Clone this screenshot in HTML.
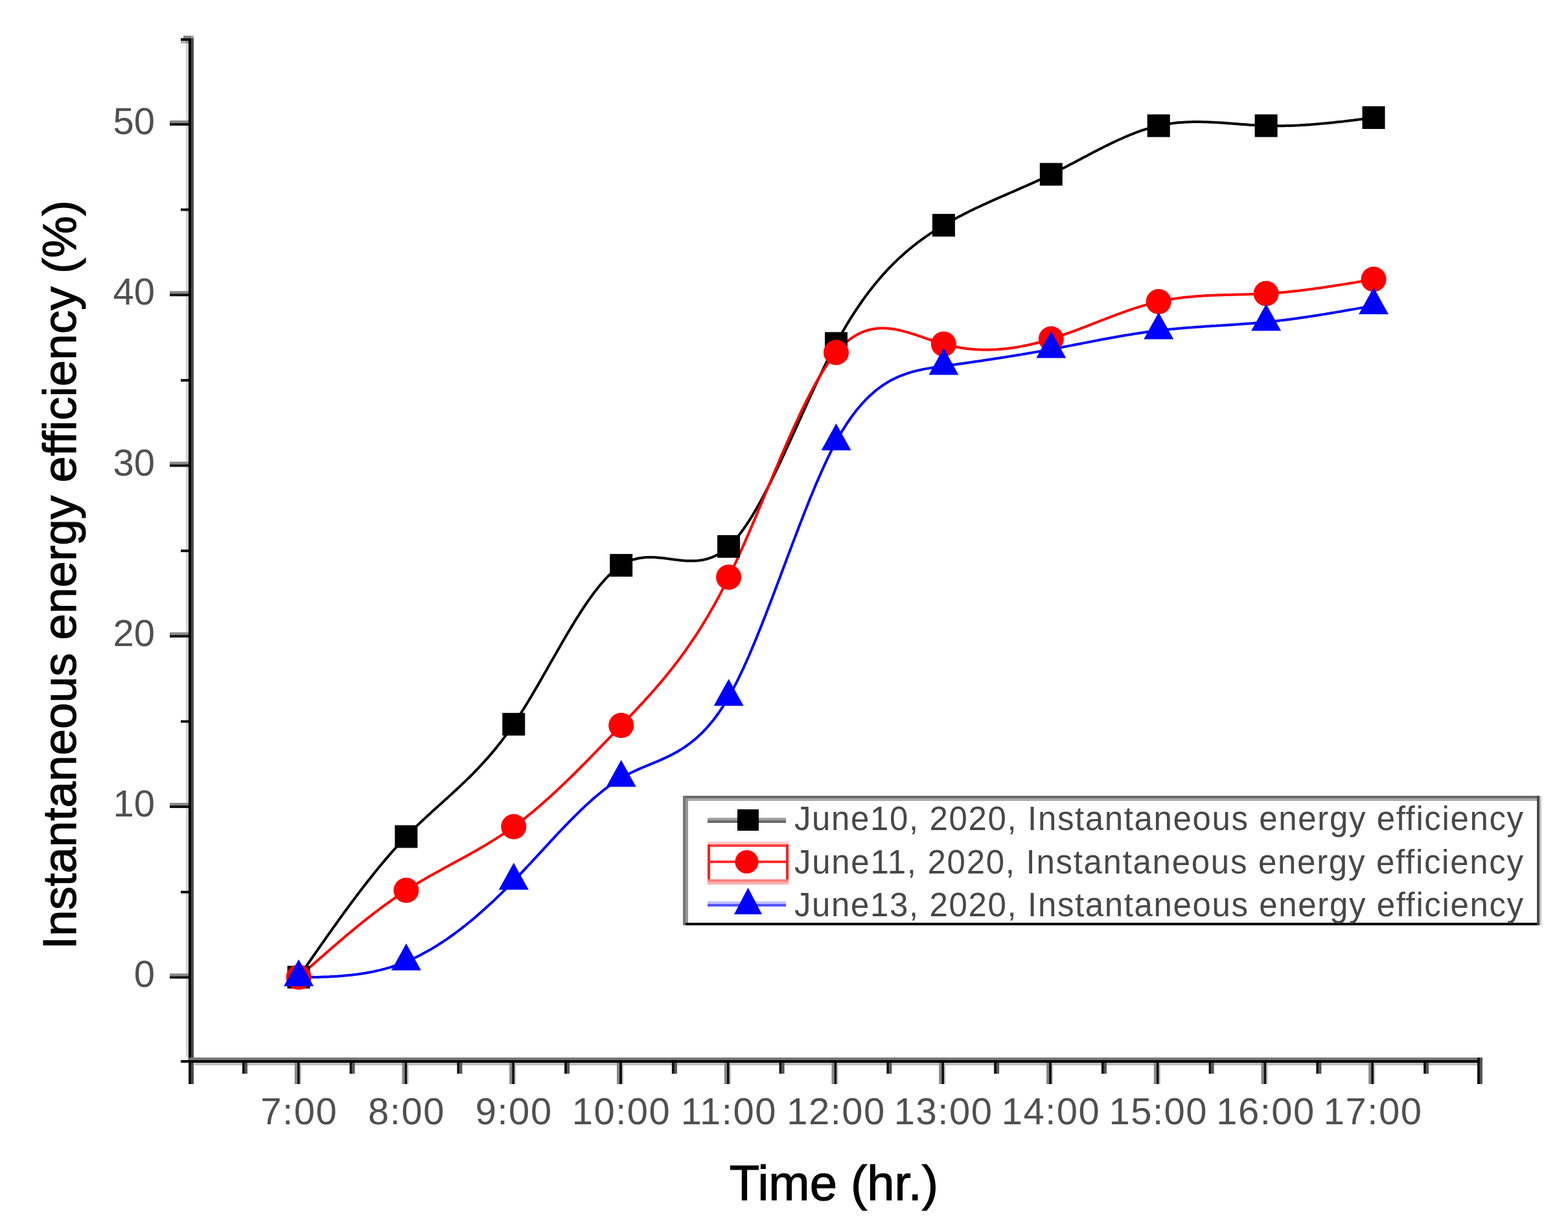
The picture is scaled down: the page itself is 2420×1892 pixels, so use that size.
<!DOCTYPE html>
<html><head><meta charset="utf-8"><title>Instantaneous energy efficiency</title>
<style>html,body{margin:0;padding:0;background:#fff;overflow:hidden;} svg{display:block;}</style></head>
<body><svg width="2420" height="1892" viewBox="0 0 2420 1892">
<rect width="2420" height="1892" fill="#fff"/>
<rect x="287.0" y="63.0" width="4.0" height="1569.0" fill="#d2d2d2"/>
<rect x="291.0" y="59.0" width="4.0" height="1614.0" fill="#000"/>
<rect x="295.0" y="59.0" width="4.0" height="1614.0" fill="#4a4a4a"/>
<rect x="283.0" y="55.0" width="12.0" height="4.0" fill="#808080"/>
<rect x="295.0" y="55.0" width="4.0" height="4.0" fill="#a0a0a0"/>
<rect x="279.0" y="59.0" width="12.0" height="4.0" fill="#111"/>
<rect x="279.0" y="63.0" width="8.0" height="4.0" fill="#b0b0b0"/>
<rect x="287.0" y="63.0" width="4.0" height="4.0" fill="#909090"/>
<rect x="292.0" y="1632.0" width="1996.0" height="4.0" fill="#777"/>
<rect x="279.0" y="1636.0" width="2009.0" height="4.0" fill="#000"/>
<rect x="300.0" y="1640.0" width="1980.0" height="4.0" fill="#bdbdbd"/>
<rect x="262.0" y="1502.3" width="29.0" height="4.0" fill="#888"/>
<rect x="262.0" y="1506.3" width="29.0" height="4.0" fill="#111"/>
<rect x="262.0" y="1239.0" width="29.0" height="4.0" fill="#888"/>
<rect x="262.0" y="1243.0" width="29.0" height="4.0" fill="#111"/>
<rect x="262.0" y="975.8" width="29.0" height="4.0" fill="#888"/>
<rect x="262.0" y="979.8" width="29.0" height="4.0" fill="#111"/>
<rect x="262.0" y="712.5" width="29.0" height="4.0" fill="#888"/>
<rect x="262.0" y="716.5" width="29.0" height="4.0" fill="#111"/>
<rect x="262.0" y="449.2" width="29.0" height="4.0" fill="#888"/>
<rect x="262.0" y="453.2" width="29.0" height="4.0" fill="#111"/>
<rect x="262.0" y="185.9" width="29.0" height="4.0" fill="#888"/>
<rect x="262.0" y="189.9" width="29.0" height="4.0" fill="#111"/>
<rect x="279.0" y="1374.7" width="12.0" height="4.0" fill="#111"/>
<rect x="279.0" y="1111.4" width="12.0" height="4.0" fill="#111"/>
<rect x="279.0" y="848.1" width="12.0" height="4.0" fill="#111"/>
<rect x="279.0" y="584.9" width="12.0" height="4.0" fill="#111"/>
<rect x="279.0" y="321.6" width="12.0" height="4.0" fill="#111"/>
<rect x="454.8" y="1640.0" width="4.0" height="33.0" fill="#888"/>
<rect x="458.8" y="1640.0" width="4.0" height="33.0" fill="#111"/>
<rect x="462.8" y="1640.0" width="2.0" height="33.0" fill="#bbb"/>
<rect x="620.5" y="1640.0" width="4.0" height="33.0" fill="#888"/>
<rect x="624.5" y="1640.0" width="4.0" height="33.0" fill="#111"/>
<rect x="628.5" y="1640.0" width="2.0" height="33.0" fill="#bbb"/>
<rect x="786.2" y="1640.0" width="4.0" height="33.0" fill="#888"/>
<rect x="790.2" y="1640.0" width="4.0" height="33.0" fill="#111"/>
<rect x="794.2" y="1640.0" width="2.0" height="33.0" fill="#bbb"/>
<rect x="952.0" y="1640.0" width="4.0" height="33.0" fill="#888"/>
<rect x="956.0" y="1640.0" width="4.0" height="33.0" fill="#111"/>
<rect x="960.0" y="1640.0" width="2.0" height="33.0" fill="#bbb"/>
<rect x="1117.8" y="1640.0" width="4.0" height="33.0" fill="#888"/>
<rect x="1121.8" y="1640.0" width="4.0" height="33.0" fill="#111"/>
<rect x="1125.8" y="1640.0" width="2.0" height="33.0" fill="#bbb"/>
<rect x="1283.5" y="1640.0" width="4.0" height="33.0" fill="#888"/>
<rect x="1287.5" y="1640.0" width="4.0" height="33.0" fill="#111"/>
<rect x="1291.5" y="1640.0" width="2.0" height="33.0" fill="#bbb"/>
<rect x="1449.2" y="1640.0" width="4.0" height="33.0" fill="#888"/>
<rect x="1453.2" y="1640.0" width="4.0" height="33.0" fill="#111"/>
<rect x="1457.2" y="1640.0" width="2.0" height="33.0" fill="#bbb"/>
<rect x="1615.0" y="1640.0" width="4.0" height="33.0" fill="#888"/>
<rect x="1619.0" y="1640.0" width="4.0" height="33.0" fill="#111"/>
<rect x="1623.0" y="1640.0" width="2.0" height="33.0" fill="#bbb"/>
<rect x="1780.8" y="1640.0" width="4.0" height="33.0" fill="#888"/>
<rect x="1784.8" y="1640.0" width="4.0" height="33.0" fill="#111"/>
<rect x="1788.8" y="1640.0" width="2.0" height="33.0" fill="#bbb"/>
<rect x="1946.5" y="1640.0" width="4.0" height="33.0" fill="#888"/>
<rect x="1950.5" y="1640.0" width="4.0" height="33.0" fill="#111"/>
<rect x="1954.5" y="1640.0" width="2.0" height="33.0" fill="#bbb"/>
<rect x="2112.2" y="1640.0" width="4.0" height="33.0" fill="#888"/>
<rect x="2116.2" y="1640.0" width="4.0" height="33.0" fill="#111"/>
<rect x="2120.2" y="1640.0" width="2.0" height="33.0" fill="#bbb"/>
<rect x="291.0" y="1640.0" width="4.0" height="33.0" fill="#111"/>
<rect x="295.0" y="1640.0" width="4.0" height="33.0" fill="#4a4a4a"/>
<rect x="2280.0" y="1632.0" width="4.0" height="41.0" fill="#111"/>
<rect x="2284.0" y="1632.0" width="4.0" height="41.0" fill="#555"/>
<rect x="373.9" y="1640.0" width="4.0" height="17.0" fill="#111"/>
<rect x="377.9" y="1640.0" width="4.0" height="17.0" fill="#555"/>
<rect x="539.6" y="1640.0" width="4.0" height="17.0" fill="#111"/>
<rect x="543.6" y="1640.0" width="4.0" height="17.0" fill="#555"/>
<rect x="705.4" y="1640.0" width="4.0" height="17.0" fill="#111"/>
<rect x="709.4" y="1640.0" width="4.0" height="17.0" fill="#555"/>
<rect x="871.1" y="1640.0" width="4.0" height="17.0" fill="#111"/>
<rect x="875.1" y="1640.0" width="4.0" height="17.0" fill="#555"/>
<rect x="1036.9" y="1640.0" width="4.0" height="17.0" fill="#111"/>
<rect x="1040.9" y="1640.0" width="4.0" height="17.0" fill="#555"/>
<rect x="1202.6" y="1640.0" width="4.0" height="17.0" fill="#111"/>
<rect x="1206.6" y="1640.0" width="4.0" height="17.0" fill="#555"/>
<rect x="1368.4" y="1640.0" width="4.0" height="17.0" fill="#111"/>
<rect x="1372.4" y="1640.0" width="4.0" height="17.0" fill="#555"/>
<rect x="1534.1" y="1640.0" width="4.0" height="17.0" fill="#111"/>
<rect x="1538.1" y="1640.0" width="4.0" height="17.0" fill="#555"/>
<rect x="1699.9" y="1640.0" width="4.0" height="17.0" fill="#111"/>
<rect x="1703.9" y="1640.0" width="4.0" height="17.0" fill="#555"/>
<rect x="1865.6" y="1640.0" width="4.0" height="17.0" fill="#111"/>
<rect x="1869.6" y="1640.0" width="4.0" height="17.0" fill="#555"/>
<rect x="2031.4" y="1640.0" width="4.0" height="17.0" fill="#111"/>
<rect x="2035.4" y="1640.0" width="4.0" height="17.0" fill="#555"/>
<rect x="2197.1" y="1640.0" width="4.0" height="17.0" fill="#111"/>
<rect x="2201.1" y="1640.0" width="4.0" height="17.0" fill="#555"/>
<polyline fill="none" stroke="#000" stroke-width="4" stroke-linejoin="round" points="461.0,1508.0 463.8,1504.0 466.5,1500.0 469.3,1496.0 472.1,1492.0 474.8,1488.0 477.6,1484.0 480.4,1480.0 483.2,1476.0 485.9,1472.1 488.7,1468.1 491.5,1464.1 494.2,1460.2 497.0,1456.2 499.8,1452.3 502.5,1448.3 505.3,1444.4 508.1,1440.5 510.9,1436.6 513.6,1432.7 516.4,1428.8 519.2,1425.0 521.9,1421.1 524.7,1417.3 527.5,1413.4 530.2,1409.6 533.0,1405.8 535.8,1402.1 538.5,1398.3 541.3,1394.5 544.1,1390.8 546.9,1387.1 549.6,1383.4 552.4,1379.8 555.2,1376.1 557.9,1372.5 560.7,1368.9 563.5,1365.3 566.2,1361.8 569.0,1358.2 571.8,1354.7 574.6,1351.2 577.3,1347.8 580.1,1344.3 582.9,1340.9 585.6,1337.6 588.4,1334.2 591.2,1330.9 593.9,1327.6 596.7,1324.4 599.5,1321.1 602.3,1317.9 605.0,1314.8 607.8,1311.6 610.6,1308.6 613.3,1305.5 616.1,1302.5 618.9,1299.5 621.6,1296.5 624.4,1293.6 627.2,1290.7 629.9,1287.9 632.7,1285.1 635.5,1282.3 638.3,1279.5 641.0,1276.8 643.8,1274.1 646.6,1271.5 649.3,1268.9 652.1,1266.2 654.9,1263.6 657.6,1261.1 660.4,1258.5 663.2,1256.0 666.0,1253.4 668.7,1250.9 671.5,1248.4 674.3,1245.9 677.0,1243.4 679.8,1240.9 682.6,1238.4 685.3,1235.9 688.1,1233.4 690.9,1230.9 693.6,1228.4 696.4,1225.9 699.2,1223.3 702.0,1220.8 704.7,1218.2 707.5,1215.6 710.3,1213.0 713.0,1210.4 715.8,1207.8 718.6,1205.1 721.3,1202.4 724.1,1199.7 726.9,1197.0 729.7,1194.2 732.4,1191.4 735.2,1188.5 738.0,1185.6 740.7,1182.7 743.5,1179.7 746.3,1176.7 749.0,1173.7 751.8,1170.6 754.6,1167.4 757.3,1164.2 760.1,1160.9 762.9,1157.6 765.7,1154.2 768.4,1150.8 771.2,1147.3 774.0,1143.7 776.7,1140.1 779.5,1136.4 782.3,1132.7 785.0,1128.8 787.8,1124.9 790.6,1120.9 793.4,1116.9 796.1,1112.7 798.9,1108.5 801.7,1104.3 804.4,1099.9 807.2,1095.5 810.0,1091.1 812.7,1086.5 815.5,1082.0 818.3,1077.4 821.1,1072.7 823.8,1068.0 826.6,1063.3 829.4,1058.5 832.1,1053.7 834.9,1048.9 837.7,1044.1 840.4,1039.2 843.2,1034.4 846.0,1029.5 848.7,1024.6 851.5,1019.8 854.3,1014.9 857.1,1010.1 859.8,1005.2 862.6,1000.4 865.4,995.6 868.1,990.8 870.9,986.0 873.7,981.3 876.4,976.6 879.2,972.0 882.0,967.4 884.8,962.8 887.5,958.3 890.3,953.9 893.1,949.5 895.8,945.1 898.6,940.9 901.4,936.7 904.1,932.6 906.9,928.5 909.7,924.6 912.4,920.7 915.2,916.9 918.0,913.2 920.8,909.7 923.5,906.2 926.3,902.8 929.1,899.5 931.8,896.4 934.6,893.3 937.4,890.4 940.1,887.6 942.9,884.9 945.7,882.4 948.5,880.0 951.2,877.8 954.0,875.6 956.8,873.7 959.5,871.9 962.3,870.2 965.1,868.7 967.8,867.3 970.6,866.1 973.4,865.0 976.1,864.0 978.9,863.2 981.7,862.5 984.5,861.8 987.2,861.3 990.0,860.9 992.8,860.5 995.5,860.3 998.3,860.1 1001.1,860.0 1003.8,860.0 1006.6,860.0 1009.4,860.1 1012.2,860.3 1014.9,860.5 1017.7,860.7 1020.5,861.0 1023.2,861.3 1026.0,861.6 1028.8,862.0 1031.5,862.3 1034.3,862.7 1037.1,863.1 1039.8,863.4 1042.6,863.8 1045.4,864.1 1048.2,864.4 1050.9,864.7 1053.7,865.0 1056.5,865.2 1059.2,865.4 1062.0,865.5 1064.8,865.6 1067.5,865.6 1070.3,865.6 1073.1,865.5 1075.9,865.3 1078.6,865.0 1081.4,864.6 1084.2,864.2 1086.9,863.6 1089.7,863.0 1092.5,862.2 1095.2,861.3 1098.0,860.3 1100.8,859.2 1103.6,857.9 1106.3,856.5 1109.1,854.9 1111.9,853.2 1114.6,851.4 1117.4,849.3 1120.2,847.2 1122.9,844.8 1125.7,842.3 1128.5,839.6 1131.2,836.7 1134.0,833.6 1136.8,830.4 1139.6,827.0 1142.3,823.5 1145.1,819.8 1147.9,815.9 1150.6,811.9 1153.4,807.8 1156.2,803.6 1158.9,799.2 1161.7,794.7 1164.5,790.0 1167.3,785.3 1170.0,780.4 1172.8,775.5 1175.6,770.4 1178.3,765.3 1181.1,760.0 1183.9,754.7 1186.6,749.3 1189.4,743.8 1192.2,738.2 1194.9,732.6 1197.7,726.9 1200.5,721.1 1203.3,715.3 1206.0,709.4 1208.8,703.5 1211.6,697.5 1214.3,691.5 1217.1,685.5 1219.9,679.5 1222.6,673.4 1225.4,667.3 1228.2,661.2 1231.0,655.1 1233.7,648.9 1236.5,642.8 1239.3,636.7 1242.0,630.6 1244.8,624.5 1247.6,618.4 1250.3,612.4 1253.1,606.3 1255.9,600.3 1258.6,594.4 1261.4,588.5 1264.2,582.6 1267.0,576.8 1269.7,571.0 1272.5,565.3 1275.3,559.7 1278.0,554.1 1280.8,548.6 1283.6,543.2 1286.3,537.8 1289.1,532.6 1291.9,527.4 1294.7,522.4 1297.4,517.4 1300.2,512.5 1303.0,507.7 1305.7,503.0 1308.5,498.4 1311.3,493.9 1314.0,489.4 1316.8,485.1 1319.6,480.8 1322.4,476.6 1325.1,472.5 1327.9,468.5 1330.7,464.5 1333.4,460.6 1336.2,456.8 1339.0,453.1 1341.7,449.4 1344.5,445.9 1347.3,442.3 1350.0,438.9 1352.8,435.5 1355.6,432.2 1358.4,429.0 1361.1,425.8 1363.9,422.7 1366.7,419.7 1369.4,416.7 1372.2,413.7 1375.0,410.9 1377.7,408.1 1380.5,405.3 1383.3,402.6 1386.1,400.0 1388.8,397.4 1391.6,394.9 1394.4,392.4 1397.1,389.9 1399.9,387.6 1402.7,385.2 1405.4,382.9 1408.2,380.7 1411.0,378.5 1413.7,376.3 1416.5,374.2 1419.3,372.1 1422.1,370.1 1424.8,368.1 1427.6,366.1 1430.4,364.2 1433.1,362.3 1435.9,360.4 1438.7,358.6 1441.4,356.8 1444.2,355.1 1447.0,353.3 1449.8,351.6 1452.5,349.9 1455.3,348.3 1458.1,346.6 1460.8,345.0 1463.6,343.4 1466.4,341.8 1469.1,340.3 1471.9,338.8 1474.7,337.3 1477.4,335.8 1480.2,334.3 1483.0,332.9 1485.8,331.4 1488.5,330.0 1491.3,328.6 1494.1,327.2 1496.8,325.8 1499.6,324.5 1502.4,323.1 1505.1,321.8 1507.9,320.5 1510.7,319.2 1513.5,317.9 1516.2,316.6 1519.0,315.3 1521.8,314.1 1524.5,312.8 1527.3,311.6 1530.1,310.3 1532.8,309.1 1535.6,307.8 1538.4,306.6 1541.2,305.4 1543.9,304.2 1546.7,303.0 1549.5,301.8 1552.2,300.6 1555.0,299.4 1557.8,298.2 1560.5,297.0 1563.3,295.8 1566.1,294.6 1568.8,293.4 1571.6,292.2 1574.4,290.9 1577.2,289.7 1579.9,288.5 1582.7,287.3 1585.5,286.1 1588.2,284.8 1591.0,283.6 1593.8,282.4 1596.5,281.1 1599.3,279.9 1602.1,278.6 1604.9,277.3 1607.6,276.0 1610.4,274.7 1613.2,273.4 1615.9,272.1 1618.7,270.8 1621.5,269.4 1624.2,268.0 1627.0,266.7 1629.8,265.3 1632.5,263.9 1635.3,262.5 1638.1,261.1 1640.9,259.6 1643.6,258.2 1646.4,256.8 1649.2,255.3 1651.9,253.8 1654.7,252.4 1657.5,250.9 1660.2,249.5 1663.0,248.0 1665.8,246.5 1668.6,245.1 1671.3,243.6 1674.1,242.1 1676.9,240.7 1679.6,239.2 1682.4,237.7 1685.2,236.3 1687.9,234.8 1690.7,233.4 1693.5,232.0 1696.2,230.5 1699.0,229.1 1701.8,227.7 1704.6,226.3 1707.3,225.0 1710.1,223.6 1712.9,222.2 1715.6,220.9 1718.4,219.6 1721.2,218.3 1723.9,217.0 1726.7,215.7 1729.5,214.5 1732.3,213.2 1735.0,212.0 1737.8,210.8 1740.6,209.7 1743.3,208.5 1746.1,207.4 1748.9,206.3 1751.6,205.2 1754.4,204.2 1757.2,203.2 1759.9,202.2 1762.7,201.2 1765.5,200.3 1768.3,199.4 1771.0,198.6 1773.8,197.7 1776.6,196.9 1779.3,196.2 1782.1,195.5 1784.9,194.8 1787.6,194.1 1790.4,193.5 1793.2,192.9 1796.0,192.4 1798.7,191.9 1801.5,191.4 1804.3,191.0 1807.0,190.6 1809.8,190.3 1812.6,189.9 1815.3,189.6 1818.1,189.3 1820.9,189.1 1823.7,188.9 1826.4,188.7 1829.2,188.5 1832.0,188.4 1834.7,188.3 1837.5,188.2 1840.3,188.1 1843.0,188.1 1845.8,188.1 1848.6,188.1 1851.3,188.1 1854.1,188.1 1856.9,188.2 1859.7,188.2 1862.4,188.3 1865.2,188.4 1868.0,188.5 1870.7,188.7 1873.5,188.8 1876.3,189.0 1879.0,189.1 1881.8,189.3 1884.6,189.5 1887.4,189.6 1890.1,189.8 1892.9,190.0 1895.7,190.2 1898.4,190.4 1901.2,190.6 1904.0,190.9 1906.7,191.1 1909.5,191.3 1912.3,191.5 1915.0,191.7 1917.8,191.9 1920.6,192.1 1923.4,192.3 1926.1,192.5 1928.9,192.7 1931.7,192.9 1934.4,193.1 1937.2,193.2 1940.0,193.4 1942.7,193.5 1945.5,193.7 1948.3,193.8 1951.1,193.9 1953.8,194.0 1956.6,194.1 1959.4,194.1 1962.1,194.2 1964.9,194.2 1967.7,194.3 1970.4,194.3 1973.2,194.3 1976.0,194.3 1978.7,194.2 1981.5,194.2 1984.3,194.1 1987.1,194.1 1989.8,194.0 1992.6,193.9 1995.4,193.8 1998.1,193.7 2000.9,193.6 2003.7,193.4 2006.4,193.3 2009.2,193.1 2012.0,193.0 2014.8,192.8 2017.5,192.6 2020.3,192.4 2023.1,192.2 2025.8,192.0 2028.6,191.8 2031.4,191.6 2034.1,191.3 2036.9,191.1 2039.7,190.8 2042.5,190.6 2045.2,190.3 2048.0,190.1 2050.8,189.8 2053.5,189.5 2056.3,189.2 2059.1,188.9 2061.8,188.6 2064.6,188.3 2067.4,188.0 2070.1,187.7 2072.9,187.4 2075.7,187.0 2078.5,186.7 2081.2,186.4 2084.0,186.1 2086.8,185.7 2089.5,185.4 2092.3,185.0 2095.1,184.7 2097.8,184.3 2100.6,184.0 2103.4,183.6 2106.2,183.3 2108.9,182.9 2111.7,182.6 2114.5,182.2 2117.2,181.9 2120.0,181.5"/>
<polyline fill="none" stroke="#f00" stroke-width="4" stroke-linejoin="round" points="461.0,1508.0 463.8,1505.5 466.5,1503.1 469.3,1500.6 472.1,1498.2 474.8,1495.7 477.6,1493.3 480.4,1490.8 483.2,1488.3 485.9,1485.9 488.7,1483.5 491.5,1481.0 494.2,1478.6 497.0,1476.2 499.8,1473.7 502.5,1471.3 505.3,1468.9 508.1,1466.5 510.9,1464.1 513.6,1461.7 516.4,1459.3 519.2,1456.9 521.9,1454.5 524.7,1452.2 527.5,1449.8 530.2,1447.5 533.0,1445.1 535.8,1442.8 538.5,1440.5 541.3,1438.2 544.1,1435.9 546.9,1433.6 549.6,1431.3 552.4,1429.0 555.2,1426.8 557.9,1424.6 560.7,1422.3 563.5,1420.1 566.2,1417.9 569.0,1415.7 571.8,1413.6 574.6,1411.4 577.3,1409.3 580.1,1407.2 582.9,1405.0 585.6,1403.0 588.4,1400.9 591.2,1398.8 593.9,1396.8 596.7,1394.8 599.5,1392.8 602.3,1390.8 605.0,1388.8 607.8,1386.9 610.6,1384.9 613.3,1383.0 616.1,1381.1 618.9,1379.3 621.6,1377.4 624.4,1375.6 627.2,1373.8 629.9,1372.0 632.7,1370.3 635.5,1368.6 638.3,1366.8 641.0,1365.1 643.8,1363.5 646.6,1361.8 649.3,1360.2 652.1,1358.5 654.9,1356.9 657.6,1355.3 660.4,1353.7 663.2,1352.1 666.0,1350.6 668.7,1349.0 671.5,1347.5 674.3,1345.9 677.0,1344.4 679.8,1342.9 682.6,1341.4 685.3,1339.8 688.1,1338.3 690.9,1336.8 693.6,1335.3 696.4,1333.8 699.2,1332.3 702.0,1330.8 704.7,1329.3 707.5,1327.8 710.3,1326.3 713.0,1324.8 715.8,1323.3 718.6,1321.7 721.3,1320.2 724.1,1318.7 726.9,1317.1 729.7,1315.6 732.4,1314.0 735.2,1312.4 738.0,1310.8 740.7,1309.2 743.5,1307.6 746.3,1306.0 749.0,1304.4 751.8,1302.7 754.6,1301.0 757.3,1299.3 760.1,1297.6 762.9,1295.9 765.7,1294.1 768.4,1292.4 771.2,1290.6 774.0,1288.7 776.7,1286.9 779.5,1285.0 782.3,1283.1 785.0,1281.2 787.8,1279.3 790.6,1277.3 793.4,1275.3 796.1,1273.3 798.9,1271.2 801.7,1269.1 804.4,1267.0 807.2,1264.8 810.0,1262.7 812.7,1260.5 815.5,1258.2 818.3,1256.0 821.1,1253.7 823.8,1251.4 826.6,1249.1 829.4,1246.7 832.1,1244.4 834.9,1242.0 837.7,1239.5 840.4,1237.1 843.2,1234.6 846.0,1232.2 848.7,1229.7 851.5,1227.1 854.3,1224.6 857.1,1222.0 859.8,1219.5 862.6,1216.9 865.4,1214.2 868.1,1211.6 870.9,1209.0 873.7,1206.3 876.4,1203.6 879.2,1200.9 882.0,1198.2 884.8,1195.5 887.5,1192.8 890.3,1190.0 893.1,1187.3 895.8,1184.5 898.6,1181.7 901.4,1178.9 904.1,1176.1 906.9,1173.3 909.7,1170.5 912.4,1167.7 915.2,1164.8 918.0,1162.0 920.8,1159.1 923.5,1156.3 926.3,1153.4 929.1,1150.5 931.8,1147.7 934.6,1144.8 937.4,1141.9 940.1,1139.0 942.9,1136.1 945.7,1133.2 948.5,1130.3 951.2,1127.4 954.0,1124.5 956.8,1121.6 959.5,1118.7 962.3,1115.8 965.1,1112.9 967.8,1110.0 970.6,1107.1 973.4,1104.2 976.1,1101.3 978.9,1098.3 981.7,1095.4 984.5,1092.4 987.2,1089.4 990.0,1086.5 992.8,1083.5 995.5,1080.4 998.3,1077.4 1001.1,1074.3 1003.8,1071.2 1006.6,1068.1 1009.4,1065.0 1012.2,1061.8 1014.9,1058.6 1017.7,1055.4 1020.5,1052.1 1023.2,1048.8 1026.0,1045.5 1028.8,1042.1 1031.5,1038.7 1034.3,1035.2 1037.1,1031.7 1039.8,1028.2 1042.6,1024.6 1045.4,1021.0 1048.2,1017.3 1050.9,1013.6 1053.7,1009.8 1056.5,1006.0 1059.2,1002.1 1062.0,998.1 1064.8,994.1 1067.5,990.1 1070.3,986.0 1073.1,981.8 1075.9,977.5 1078.6,973.2 1081.4,968.9 1084.2,964.4 1086.9,959.9 1089.7,955.3 1092.5,950.7 1095.2,945.9 1098.0,941.1 1100.8,936.2 1103.6,931.3 1106.3,926.2 1109.1,921.1 1111.9,915.9 1114.6,910.6 1117.4,905.2 1120.2,899.7 1122.9,894.2 1125.7,888.5 1128.5,882.8 1131.2,877.0 1134.0,871.0 1136.8,865.1 1139.6,859.0 1142.3,852.9 1145.1,846.7 1147.9,840.4 1150.6,834.1 1153.4,827.8 1156.2,821.4 1158.9,814.9 1161.7,808.4 1164.5,801.9 1167.3,795.4 1170.0,788.8 1172.8,782.2 1175.6,775.6 1178.3,769.0 1181.1,762.3 1183.9,755.7 1186.6,749.1 1189.4,742.5 1192.2,735.9 1194.9,729.3 1197.7,722.7 1200.5,716.2 1203.3,709.6 1206.0,703.1 1208.8,696.7 1211.6,690.3 1214.3,683.9 1217.1,677.6 1219.9,671.4 1222.6,665.2 1225.4,659.0 1228.2,653.0 1231.0,647.0 1233.7,641.0 1236.5,635.2 1239.3,629.5 1242.0,623.8 1244.8,618.2 1247.6,612.8 1250.3,607.4 1253.1,602.2 1255.9,597.0 1258.6,592.0 1261.4,587.1 1264.2,582.3 1267.0,577.7 1269.7,573.1 1272.5,568.8 1275.3,564.5 1278.0,560.4 1280.8,556.5 1283.6,552.7 1286.3,549.1 1289.1,545.7 1291.9,542.4 1294.7,539.3 1297.4,536.3 1300.2,533.5 1303.0,530.9 1305.7,528.4 1308.5,526.1 1311.3,524.0 1314.0,521.9 1316.8,520.1 1319.6,518.3 1322.4,516.7 1325.1,515.2 1327.9,513.9 1330.7,512.7 1333.4,511.6 1336.2,510.6 1339.0,509.7 1341.7,509.0 1344.5,508.3 1347.3,507.8 1350.0,507.4 1352.8,507.0 1355.6,506.8 1358.4,506.6 1361.1,506.5 1363.9,506.5 1366.7,506.6 1369.4,506.8 1372.2,507.0 1375.0,507.3 1377.7,507.7 1380.5,508.1 1383.3,508.6 1386.1,509.2 1388.8,509.8 1391.6,510.4 1394.4,511.1 1397.1,511.8 1399.9,512.6 1402.7,513.4 1405.4,514.3 1408.2,515.1 1411.0,516.0 1413.7,516.9 1416.5,517.8 1419.3,518.8 1422.1,519.7 1424.8,520.7 1427.6,521.7 1430.4,522.6 1433.1,523.6 1435.9,524.5 1438.7,525.5 1441.4,526.4 1444.2,527.3 1447.0,528.2 1449.8,529.1 1452.5,529.9 1455.3,530.7 1458.1,531.5 1460.8,532.2 1463.6,532.9 1466.4,533.5 1469.1,534.2 1471.9,534.8 1474.7,535.3 1477.4,535.8 1480.2,536.3 1483.0,536.8 1485.8,537.2 1488.5,537.6 1491.3,537.9 1494.1,538.3 1496.8,538.6 1499.6,538.8 1502.4,539.0 1505.1,539.2 1507.9,539.4 1510.7,539.5 1513.5,539.6 1516.2,539.7 1519.0,539.8 1521.8,539.8 1524.5,539.8 1527.3,539.7 1530.1,539.6 1532.8,539.5 1535.6,539.4 1538.4,539.3 1541.2,539.1 1543.9,538.9 1546.7,538.6 1549.5,538.4 1552.2,538.1 1555.0,537.8 1557.8,537.4 1560.5,537.1 1563.3,536.7 1566.1,536.3 1568.8,535.8 1571.6,535.4 1574.4,534.9 1577.2,534.4 1579.9,533.8 1582.7,533.3 1585.5,532.7 1588.2,532.1 1591.0,531.5 1593.8,530.8 1596.5,530.2 1599.3,529.5 1602.1,528.8 1604.9,528.0 1607.6,527.3 1610.4,526.5 1613.2,525.7 1615.9,524.9 1618.7,524.1 1621.5,523.3 1624.2,522.4 1627.0,521.5 1629.8,520.6 1632.5,519.7 1635.3,518.8 1638.1,517.8 1640.9,516.9 1643.6,515.9 1646.4,514.9 1649.2,513.9 1651.9,512.9 1654.7,511.9 1657.5,510.9 1660.2,509.9 1663.0,508.8 1665.8,507.8 1668.6,506.7 1671.3,505.7 1674.1,504.6 1676.9,503.5 1679.6,502.5 1682.4,501.4 1685.2,500.3 1687.9,499.2 1690.7,498.1 1693.5,497.1 1696.2,496.0 1699.0,494.9 1701.8,493.8 1704.6,492.8 1707.3,491.7 1710.1,490.6 1712.9,489.6 1715.6,488.5 1718.4,487.5 1721.2,486.4 1723.9,485.4 1726.7,484.4 1729.5,483.4 1732.3,482.4 1735.0,481.4 1737.8,480.4 1740.6,479.4 1743.3,478.5 1746.1,477.5 1748.9,476.6 1751.6,475.7 1754.4,474.8 1757.2,473.9 1759.9,473.1 1762.7,472.2 1765.5,471.4 1768.3,470.6 1771.0,469.8 1773.8,469.1 1776.6,468.3 1779.3,467.6 1782.1,466.9 1784.9,466.3 1787.6,465.6 1790.4,465.0 1793.2,464.4 1796.0,463.9 1798.7,463.3 1801.5,462.8 1804.3,462.3 1807.0,461.8 1809.8,461.4 1812.6,461.0 1815.3,460.6 1818.1,460.2 1820.9,459.8 1823.7,459.4 1826.4,459.1 1829.2,458.8 1832.0,458.5 1834.7,458.2 1837.5,458.0 1840.3,457.7 1843.0,457.5 1845.8,457.3 1848.6,457.0 1851.3,456.9 1854.1,456.7 1856.9,456.5 1859.7,456.3 1862.4,456.2 1865.2,456.0 1868.0,455.9 1870.7,455.8 1873.5,455.7 1876.3,455.6 1879.0,455.5 1881.8,455.4 1884.6,455.3 1887.4,455.2 1890.1,455.1 1892.9,455.0 1895.7,455.0 1898.4,454.9 1901.2,454.8 1904.0,454.8 1906.7,454.7 1909.5,454.6 1912.3,454.5 1915.0,454.5 1917.8,454.4 1920.6,454.3 1923.4,454.3 1926.1,454.2 1928.9,454.1 1931.7,454.0 1934.4,453.9 1937.2,453.8 1940.0,453.7 1942.7,453.6 1945.5,453.4 1948.3,453.3 1951.1,453.2 1953.8,453.0 1956.6,452.9 1959.4,452.7 1962.1,452.5 1964.9,452.3 1967.7,452.1 1970.4,451.9 1973.2,451.7 1976.0,451.4 1978.7,451.2 1981.5,450.9 1984.3,450.7 1987.1,450.4 1989.8,450.1 1992.6,449.9 1995.4,449.6 1998.1,449.3 2000.9,449.0 2003.7,448.7 2006.4,448.3 2009.2,448.0 2012.0,447.7 2014.8,447.3 2017.5,447.0 2020.3,446.6 2023.1,446.3 2025.8,445.9 2028.6,445.5 2031.4,445.1 2034.1,444.8 2036.9,444.4 2039.7,444.0 2042.5,443.6 2045.2,443.2 2048.0,442.8 2050.8,442.3 2053.5,441.9 2056.3,441.5 2059.1,441.1 2061.8,440.6 2064.6,440.2 2067.4,439.8 2070.1,439.3 2072.9,438.9 2075.7,438.4 2078.5,438.0 2081.2,437.5 2084.0,437.1 2086.8,436.6 2089.5,436.2 2092.3,435.7 2095.1,435.2 2097.8,434.8 2100.6,434.3 2103.4,433.8 2106.2,433.4 2108.9,432.9 2111.7,432.4 2114.5,431.9 2117.2,431.5 2120.0,431.0"/>
<polyline fill="none" stroke="#00f" stroke-width="4" stroke-linejoin="round" points="461.0,1508.5 463.8,1508.5 466.5,1508.4 469.3,1508.4 472.1,1508.3 474.8,1508.3 477.6,1508.2 480.4,1508.2 483.2,1508.1 485.9,1508.0 488.7,1508.0 491.5,1507.9 494.2,1507.8 497.0,1507.7 499.8,1507.6 502.5,1507.5 505.3,1507.4 508.1,1507.3 510.9,1507.1 513.6,1507.0 516.4,1506.8 519.2,1506.7 521.9,1506.5 524.7,1506.3 527.5,1506.1 530.2,1505.8 533.0,1505.6 535.8,1505.3 538.5,1505.1 541.3,1504.8 544.1,1504.5 546.9,1504.1 549.6,1503.8 552.4,1503.4 555.2,1503.0 557.9,1502.6 560.7,1502.2 563.5,1501.7 566.2,1501.3 569.0,1500.8 571.8,1500.3 574.6,1499.7 577.3,1499.1 580.1,1498.5 582.9,1497.9 585.6,1497.3 588.4,1496.6 591.2,1495.9 593.9,1495.2 596.7,1494.4 599.5,1493.6 602.3,1492.8 605.0,1491.9 607.8,1491.0 610.6,1490.1 613.3,1489.2 616.1,1488.2 618.9,1487.2 621.6,1486.1 624.4,1485.0 627.2,1483.9 629.9,1482.7 632.7,1481.5 635.5,1480.3 638.3,1479.0 641.0,1477.7 643.8,1476.4 646.6,1475.0 649.3,1473.6 652.1,1472.1 654.9,1470.6 657.6,1469.1 660.4,1467.6 663.2,1466.0 666.0,1464.4 668.7,1462.7 671.5,1461.1 674.3,1459.3 677.0,1457.6 679.8,1455.8 682.6,1454.0 685.3,1452.2 688.1,1450.3 690.9,1448.4 693.6,1446.5 696.4,1444.5 699.2,1442.5 702.0,1440.5 704.7,1438.4 707.5,1436.4 710.3,1434.2 713.0,1432.1 715.8,1429.9 718.6,1427.7 721.3,1425.5 724.1,1423.3 726.9,1421.0 729.7,1418.7 732.4,1416.4 735.2,1414.0 738.0,1411.6 740.7,1409.2 743.5,1406.8 746.3,1404.3 749.0,1401.8 751.8,1399.3 754.6,1396.8 757.3,1394.2 760.1,1391.7 762.9,1389.1 765.7,1386.4 768.4,1383.8 771.2,1381.1 774.0,1378.4 776.7,1375.7 779.5,1373.0 782.3,1370.2 785.0,1367.4 787.8,1364.6 790.6,1361.8 793.4,1358.9 796.1,1356.1 798.9,1353.2 801.7,1350.3 804.4,1347.4 807.2,1344.4 810.0,1341.5 812.7,1338.5 815.5,1335.5 818.3,1332.6 821.1,1329.6 823.8,1326.6 826.6,1323.6 829.4,1320.6 832.1,1317.6 834.9,1314.6 837.7,1311.6 840.4,1308.6 843.2,1305.6 846.0,1302.6 848.7,1299.6 851.5,1296.6 854.3,1293.6 857.1,1290.6 859.8,1287.7 862.6,1284.7 865.4,1281.8 868.1,1278.9 870.9,1276.0 873.7,1273.1 876.4,1270.3 879.2,1267.4 882.0,1264.6 884.8,1261.8 887.5,1259.1 890.3,1256.3 893.1,1253.6 895.8,1250.9 898.6,1248.3 901.4,1245.6 904.1,1243.0 906.9,1240.5 909.7,1238.0 912.4,1235.5 915.2,1233.0 918.0,1230.6 920.8,1228.3 923.5,1225.9 926.3,1223.7 929.1,1221.4 931.8,1219.2 934.6,1217.1 937.4,1215.0 940.1,1213.0 942.9,1211.0 945.7,1209.0 948.5,1207.2 951.2,1205.3 954.0,1203.6 956.8,1201.9 959.5,1200.2 962.3,1198.6 965.1,1197.1 967.8,1195.6 970.6,1194.2 973.4,1192.8 976.1,1191.5 978.9,1190.1 981.7,1188.9 984.5,1187.6 987.2,1186.4 990.0,1185.2 992.8,1184.0 995.5,1182.9 998.3,1181.7 1001.1,1180.6 1003.8,1179.4 1006.6,1178.3 1009.4,1177.1 1012.2,1175.9 1014.9,1174.8 1017.7,1173.6 1020.5,1172.4 1023.2,1171.1 1026.0,1169.9 1028.8,1168.6 1031.5,1167.3 1034.3,1165.9 1037.1,1164.5 1039.8,1163.0 1042.6,1161.5 1045.4,1159.9 1048.2,1158.3 1050.9,1156.6 1053.7,1154.9 1056.5,1153.1 1059.2,1151.2 1062.0,1149.2 1064.8,1147.2 1067.5,1145.0 1070.3,1142.8 1073.1,1140.5 1075.9,1138.1 1078.6,1135.5 1081.4,1132.9 1084.2,1130.2 1086.9,1127.4 1089.7,1124.4 1092.5,1121.3 1095.2,1118.1 1098.0,1114.8 1100.8,1111.4 1103.6,1107.8 1106.3,1104.0 1109.1,1100.2 1111.9,1096.2 1114.6,1092.0 1117.4,1087.7 1120.2,1083.2 1122.9,1078.6 1125.7,1073.8 1128.5,1068.8 1131.2,1063.7 1134.0,1058.4 1136.8,1052.9 1139.6,1047.4 1142.3,1041.7 1145.1,1035.8 1147.9,1029.8 1150.6,1023.8 1153.4,1017.5 1156.2,1011.2 1158.9,1004.8 1161.7,998.3 1164.5,991.6 1167.3,984.9 1170.0,978.1 1172.8,971.3 1175.6,964.3 1178.3,957.3 1181.1,950.2 1183.9,943.1 1186.6,935.9 1189.4,928.7 1192.2,921.4 1194.9,914.1 1197.7,906.8 1200.5,899.4 1203.3,892.1 1206.0,884.7 1208.8,877.3 1211.6,869.9 1214.3,862.5 1217.1,855.1 1219.9,847.7 1222.6,840.4 1225.4,833.1 1228.2,825.8 1231.0,818.5 1233.7,811.3 1236.5,804.1 1239.3,797.0 1242.0,789.9 1244.8,782.9 1247.6,776.0 1250.3,769.1 1253.1,762.4 1255.9,755.7 1258.6,749.1 1261.4,742.6 1264.2,736.2 1267.0,729.9 1269.7,723.7 1272.5,717.6 1275.3,711.7 1278.0,705.8 1280.8,700.2 1283.6,694.6 1286.3,689.2 1289.1,684.0 1291.9,678.9 1294.7,673.9 1297.4,669.2 1300.2,664.5 1303.0,660.0 1305.7,655.7 1308.5,651.5 1311.3,647.5 1314.0,643.5 1316.8,639.8 1319.6,636.1 1322.4,632.6 1325.1,629.2 1327.9,626.0 1330.7,622.8 1333.4,619.8 1336.2,616.9 1339.0,614.1 1341.7,611.4 1344.5,608.9 1347.3,606.4 1350.0,604.1 1352.8,601.8 1355.6,599.6 1358.4,597.6 1361.1,595.6 1363.9,593.7 1366.7,591.9 1369.4,590.2 1372.2,588.6 1375.0,587.1 1377.7,585.6 1380.5,584.2 1383.3,582.9 1386.1,581.7 1388.8,580.5 1391.6,579.4 1394.4,578.3 1397.1,577.3 1399.9,576.4 1402.7,575.5 1405.4,574.6 1408.2,573.8 1411.0,573.1 1413.7,572.4 1416.5,571.7 1419.3,571.1 1422.1,570.5 1424.8,569.9 1427.6,569.4 1430.4,568.9 1433.1,568.4 1435.9,568.0 1438.7,567.5 1441.4,567.1 1444.2,566.7 1447.0,566.3 1449.8,565.9 1452.5,565.5 1455.3,565.2 1458.1,564.8 1460.8,564.4 1463.6,564.0 1466.4,563.6 1469.1,563.2 1471.9,562.8 1474.7,562.5 1477.4,562.1 1480.2,561.7 1483.0,561.3 1485.8,560.9 1488.5,560.5 1491.3,560.1 1494.1,559.7 1496.8,559.3 1499.6,558.9 1502.4,558.5 1505.1,558.1 1507.9,557.7 1510.7,557.3 1513.5,556.9 1516.2,556.5 1519.0,556.1 1521.8,555.6 1524.5,555.2 1527.3,554.8 1530.1,554.4 1532.8,554.0 1535.6,553.5 1538.4,553.1 1541.2,552.7 1543.9,552.3 1546.7,551.8 1549.5,551.4 1552.2,551.0 1555.0,550.5 1557.8,550.1 1560.5,549.6 1563.3,549.2 1566.1,548.7 1568.8,548.3 1571.6,547.8 1574.4,547.4 1577.2,546.9 1579.9,546.4 1582.7,546.0 1585.5,545.5 1588.2,545.0 1591.0,544.6 1593.8,544.1 1596.5,543.6 1599.3,543.1 1602.1,542.6 1604.9,542.2 1607.6,541.7 1610.4,541.2 1613.2,540.7 1615.9,540.2 1618.7,539.7 1621.5,539.2 1624.2,538.6 1627.0,538.1 1629.8,537.6 1632.5,537.1 1635.3,536.6 1638.1,536.0 1640.9,535.5 1643.6,535.0 1646.4,534.5 1649.2,533.9 1651.9,533.4 1654.7,532.9 1657.5,532.3 1660.2,531.8 1663.0,531.2 1665.8,530.7 1668.6,530.2 1671.3,529.6 1674.1,529.1 1676.9,528.6 1679.6,528.0 1682.4,527.5 1685.2,527.0 1687.9,526.4 1690.7,525.9 1693.5,525.4 1696.2,524.8 1699.0,524.3 1701.8,523.8 1704.6,523.3 1707.3,522.8 1710.1,522.2 1712.9,521.7 1715.6,521.2 1718.4,520.7 1721.2,520.2 1723.9,519.7 1726.7,519.3 1729.5,518.8 1732.3,518.3 1735.0,517.8 1737.8,517.3 1740.6,516.9 1743.3,516.4 1746.1,516.0 1748.9,515.5 1751.6,515.1 1754.4,514.7 1757.2,514.2 1759.9,513.8 1762.7,513.4 1765.5,513.0 1768.3,512.6 1771.0,512.2 1773.8,511.8 1776.6,511.5 1779.3,511.1 1782.1,510.7 1784.9,510.4 1787.6,510.1 1790.4,509.7 1793.2,509.4 1796.0,509.1 1798.7,508.8 1801.5,508.5 1804.3,508.2 1807.0,508.0 1809.8,507.7 1812.6,507.4 1815.3,507.2 1818.1,506.9 1820.9,506.7 1823.7,506.5 1826.4,506.2 1829.2,506.0 1832.0,505.8 1834.7,505.6 1837.5,505.4 1840.3,505.2 1843.0,504.9 1845.8,504.8 1848.6,504.6 1851.3,504.4 1854.1,504.2 1856.9,504.0 1859.7,503.8 1862.4,503.6 1865.2,503.5 1868.0,503.3 1870.7,503.1 1873.5,502.9 1876.3,502.8 1879.0,502.6 1881.8,502.4 1884.6,502.2 1887.4,502.1 1890.1,501.9 1892.9,501.7 1895.7,501.5 1898.4,501.4 1901.2,501.2 1904.0,501.0 1906.7,500.8 1909.5,500.6 1912.3,500.4 1915.0,500.2 1917.8,500.0 1920.6,499.8 1923.4,499.6 1926.1,499.4 1928.9,499.2 1931.7,499.0 1934.4,498.8 1937.2,498.5 1940.0,498.3 1942.7,498.1 1945.5,497.8 1948.3,497.6 1951.1,497.3 1953.8,497.0 1956.6,496.8 1959.4,496.5 1962.1,496.2 1964.9,495.9 1967.7,495.6 1970.4,495.3 1973.2,494.9 1976.0,494.6 1978.7,494.3 1981.5,493.9 1984.3,493.6 1987.1,493.2 1989.8,492.9 1992.6,492.5 1995.4,492.2 1998.1,491.8 2000.9,491.4 2003.7,491.0 2006.4,490.6 2009.2,490.2 2012.0,489.8 2014.8,489.4 2017.5,489.0 2020.3,488.6 2023.1,488.2 2025.8,487.8 2028.6,487.3 2031.4,486.9 2034.1,486.5 2036.9,486.0 2039.7,485.6 2042.5,485.1 2045.2,484.7 2048.0,484.2 2050.8,483.8 2053.5,483.3 2056.3,482.8 2059.1,482.4 2061.8,481.9 2064.6,481.4 2067.4,480.9 2070.1,480.5 2072.9,480.0 2075.7,479.5 2078.5,479.0 2081.2,478.5 2084.0,478.0 2086.8,477.6 2089.5,477.1 2092.3,476.6 2095.1,476.1 2097.8,475.6 2100.6,475.1 2103.4,474.6 2106.2,474.1 2108.9,473.6 2111.7,473.1 2114.5,472.6 2117.2,472.1 2120.0,471.6"/>
<rect x="443.5" y="1490.5" width="35" height="35" fill="#000"/>
<rect x="609.4" y="1273.5" width="35" height="35" fill="#000"/>
<rect x="775.3" y="1100.2" width="35" height="35" fill="#000"/>
<rect x="941.2" y="854.9" width="35" height="35" fill="#000"/>
<rect x="1107.1" y="825.8" width="35" height="35" fill="#000"/>
<rect x="1273.0" y="512.5" width="35" height="35" fill="#000"/>
<rect x="1438.9" y="330.1" width="35" height="35" fill="#000"/>
<rect x="1604.8" y="251.5" width="35" height="35" fill="#000"/>
<rect x="1770.7" y="176.5" width="35" height="35" fill="#000"/>
<rect x="1936.6" y="176.5" width="35" height="35" fill="#000"/>
<rect x="2102.5" y="164.0" width="35" height="35" fill="#000"/>
<circle cx="461.0" cy="1508.0" r="19.5" fill="#f00"/>
<circle cx="626.9" cy="1374.0" r="19.5" fill="#f00"/>
<circle cx="792.8" cy="1275.7" r="19.5" fill="#f00"/>
<circle cx="958.7" cy="1119.6" r="19.5" fill="#f00"/>
<circle cx="1124.6" cy="890.8" r="19.5" fill="#f00"/>
<circle cx="1290.5" cy="544.0" r="19.5" fill="#f00"/>
<circle cx="1456.4" cy="531.0" r="19.5" fill="#f00"/>
<circle cx="1622.3" cy="523.0" r="19.5" fill="#f00"/>
<circle cx="1788.2" cy="465.5" r="19.5" fill="#f00"/>
<circle cx="1954.1" cy="453.0" r="19.5" fill="#f00"/>
<circle cx="2120.0" cy="431.0" r="19.5" fill="#f00"/>
<polygon points="461.0,1480.5 484.0,1522.0 438.0,1522.0" fill="#00f"/>
<polygon points="626.9,1456.0 649.9,1497.5 603.9,1497.5" fill="#00f"/>
<polygon points="792.8,1331.5 815.8,1373.0 769.8,1373.0" fill="#00f"/>
<polygon points="958.7,1172.7 981.7,1214.2 935.7,1214.2" fill="#00f"/>
<polygon points="1124.6,1047.7 1147.6,1089.2 1101.6,1089.2" fill="#00f"/>
<polygon points="1290.5,653.4 1313.5,694.9 1267.5,694.9" fill="#00f"/>
<polygon points="1456.4,537.0 1479.4,578.5 1433.4,578.5" fill="#00f"/>
<polygon points="1622.3,511.0 1645.3,552.5 1599.3,552.5" fill="#00f"/>
<polygon points="1788.2,482.0 1811.2,523.5 1765.2,523.5" fill="#00f"/>
<polygon points="1954.1,469.0 1977.1,510.5 1931.1,510.5" fill="#00f"/>
<polygon points="2120.0,443.6 2143.0,485.1 2097.0,485.1" fill="#00f"/>
<rect x="1054.0" y="1228.0" width="1325.0" height="200.0" fill="#fff"/>
<rect x="1054.0" y="1228.0" width="1322.0" height="4.0" fill="#6a6a6a"/>
<rect x="1058.0" y="1232.0" width="1314.0" height="4.0" fill="#aaa"/>
<rect x="1054.0" y="1228.0" width="4.0" height="200.0" fill="#777"/>
<rect x="1058.0" y="1232.0" width="4.0" height="192.0" fill="#999"/>
<rect x="1058.0" y="1424.0" width="1318.0" height="4.0" fill="#000"/>
<rect x="2372.0" y="1228.0" width="4.0" height="200.0" fill="#4a4a4a"/>
<rect x="2376.0" y="1228.0" width="3.0" height="200.0" fill="#c4c4c4"/>
<rect x="1092.0" y="1262.0" width="121.0" height="4.0" fill="#a0a0a0"/>
<rect x="1092.0" y="1266.0" width="121.0" height="4.0" fill="#6b6b6b"/>
<rect x="1138.0" y="1249.0" width="33.0" height="33.0" fill="#000"/>
<rect x="1092.0" y="1299.0" width="125.0" height="4.0" fill="#ffc8c8"/>
<rect x="1092.0" y="1303.0" width="125.0" height="4.0" fill="#ff4444"/>
<rect x="1092.0" y="1303.0" width="4.0" height="58.0" fill="#ff2020"/>
<rect x="1213.0" y="1303.0" width="4.0" height="58.0" fill="#ff2020"/>
<rect x="1092.0" y="1357.0" width="125.0" height="4.0" fill="#ff8080"/>
<rect x="1092.0" y="1361.0" width="125.0" height="4.0" fill="#ffb0b0"/>
<rect x="1096.0" y="1328.0" width="117.0" height="4.0" fill="#ff3030"/>
<circle cx="1152.5" cy="1330" r="18" fill="#f00"/>
<rect x="1092.0" y="1391.0" width="121.0" height="4.0" fill="#c0c0ff"/>
<rect x="1092.0" y="1395.0" width="121.0" height="4.0" fill="#5555ff"/>
<polygon points="1154.5,1370 1176,1411 1133,1411" fill="#00f"/>
<text x="239" y="1523.3" text-anchor="end" font-family="Liberation Sans, Arial, sans-serif" font-size="58" fill="#505050">0</text>
<text x="239" y="1260.0" text-anchor="end" font-family="Liberation Sans, Arial, sans-serif" font-size="58" fill="#505050">10</text>
<text x="239" y="996.8" text-anchor="end" font-family="Liberation Sans, Arial, sans-serif" font-size="58" fill="#505050">20</text>
<text x="239" y="733.5" text-anchor="end" font-family="Liberation Sans, Arial, sans-serif" font-size="58" fill="#505050">30</text>
<text x="239" y="470.2" text-anchor="end" font-family="Liberation Sans, Arial, sans-serif" font-size="58" fill="#505050">40</text>
<text x="239" y="206.9" text-anchor="end" font-family="Liberation Sans, Arial, sans-serif" font-size="58" fill="#505050">50</text>
<text x="461.8" y="1735" text-anchor="middle" letter-spacing="1.5" font-family="Liberation Sans, Arial, sans-serif" font-size="58" fill="#505050">7:00</text>
<text x="627.5" y="1735" text-anchor="middle" letter-spacing="1.5" font-family="Liberation Sans, Arial, sans-serif" font-size="58" fill="#505050">8:00</text>
<text x="793.2" y="1735" text-anchor="middle" letter-spacing="1.5" font-family="Liberation Sans, Arial, sans-serif" font-size="58" fill="#505050">9:00</text>
<text x="959.0" y="1735" text-anchor="middle" letter-spacing="1.5" font-family="Liberation Sans, Arial, sans-serif" font-size="58" fill="#505050">10:00</text>
<text x="1124.8" y="1735" text-anchor="middle" letter-spacing="1.5" font-family="Liberation Sans, Arial, sans-serif" font-size="58" fill="#505050">11:00</text>
<text x="1290.5" y="1735" text-anchor="middle" letter-spacing="1.5" font-family="Liberation Sans, Arial, sans-serif" font-size="58" fill="#505050">12:00</text>
<text x="1456.2" y="1735" text-anchor="middle" letter-spacing="1.5" font-family="Liberation Sans, Arial, sans-serif" font-size="58" fill="#505050">13:00</text>
<text x="1622.0" y="1735" text-anchor="middle" letter-spacing="1.5" font-family="Liberation Sans, Arial, sans-serif" font-size="58" fill="#505050">14:00</text>
<text x="1787.8" y="1735" text-anchor="middle" letter-spacing="1.5" font-family="Liberation Sans, Arial, sans-serif" font-size="58" fill="#505050">15:00</text>
<text x="1953.5" y="1735" text-anchor="middle" letter-spacing="1.5" font-family="Liberation Sans, Arial, sans-serif" font-size="58" fill="#505050">16:00</text>
<text x="2119.2" y="1735" text-anchor="middle" letter-spacing="1.5" font-family="Liberation Sans, Arial, sans-serif" font-size="58" fill="#505050">17:00</text>
<text x="1287" y="1852" text-anchor="middle" font-family="Liberation Sans, Arial, sans-serif" font-size="76" fill="#000" stroke="#000" stroke-width="1.2">Time (hr.)</text>
<text transform="translate(117,887) rotate(-90)" text-anchor="middle" font-family="Liberation Sans, Arial, sans-serif" font-size="72.8" fill="#000" stroke="#000" stroke-width="1.2">Instantaneous energy efficiency (%)</text>
<text x="1226" y="1281.0" font-family="Liberation Sans, Arial, sans-serif" font-size="51" fill="#484848" textLength="1125" lengthAdjust="spacing">June10, 2020, Instantaneous energy efficiency</text>
<text x="1226" y="1347.7" font-family="Liberation Sans, Arial, sans-serif" font-size="51" fill="#484848" textLength="1125" lengthAdjust="spacing">June11, 2020, Instantaneous energy efficiency</text>
<text x="1226" y="1414.4" font-family="Liberation Sans, Arial, sans-serif" font-size="51" fill="#484848" textLength="1125" lengthAdjust="spacing">June13, 2020, Instantaneous energy efficiency</text>
</svg></body></html>
